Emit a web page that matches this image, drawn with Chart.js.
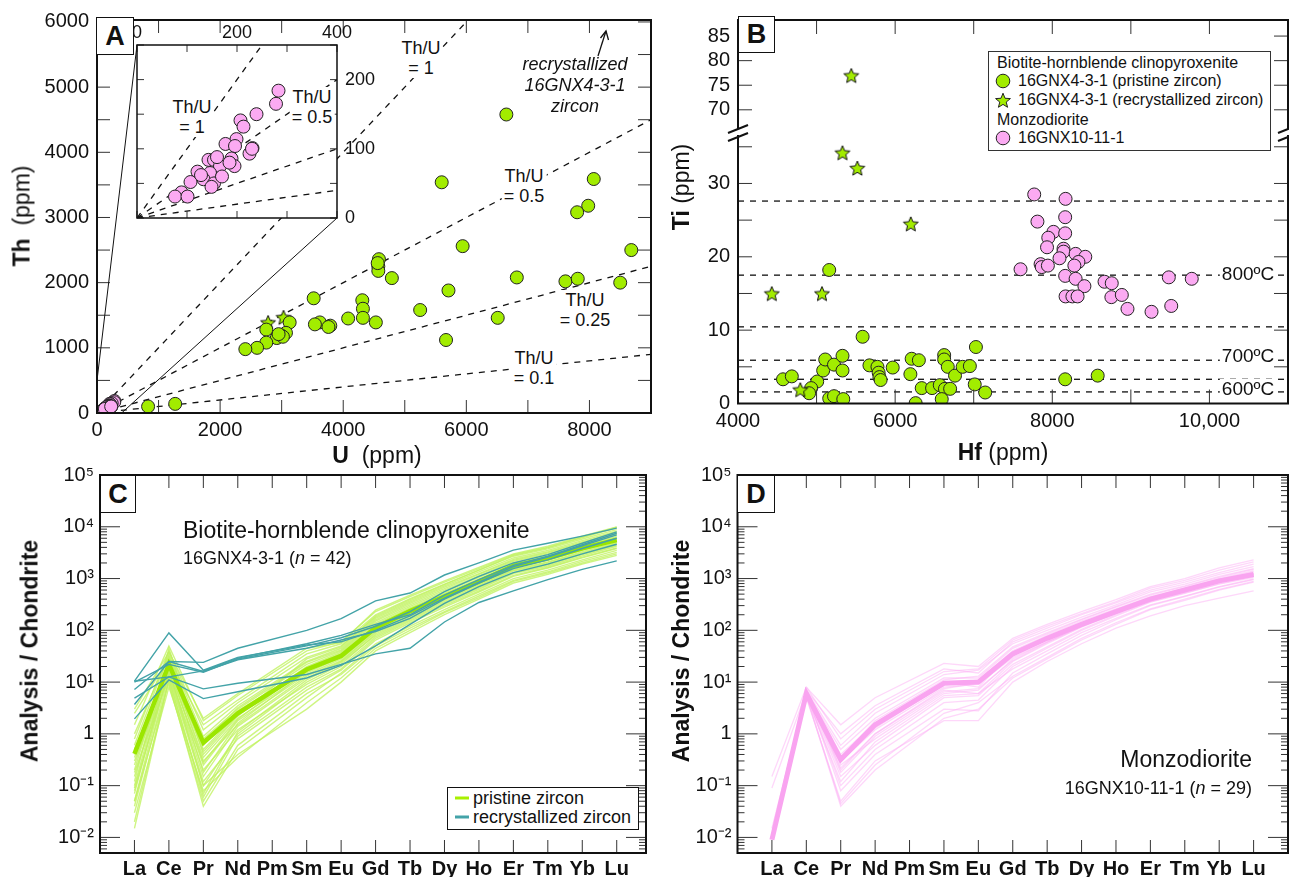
<!DOCTYPE html>
<html>
<head>
<meta charset="utf-8">
<title>Zircon geochemistry</title>
<script src="https://cdn.jsdelivr.net/npm/chart.js@4.4.1/dist/chart.umd.min.js"></script>
<style>
html,body{margin:0;padding:0;background:#fff;}
#stage{position:relative;width:1289px;height:879px;overflow:hidden;background:#fff;font-family:"Liberation Sans",Arial,Helvetica,sans-serif;color:#111;}
#stage canvas{position:absolute;left:0;top:0;}
.tx{position:absolute;white-space:nowrap;line-height:1;z-index:20;}
.lbox{position:absolute;border:1.5px solid #111;background:#fff;z-index:21;font-weight:bold;font-size:27px;display:flex;align-items:center;justify-content:center;box-sizing:border-box;}
</style>
</head>
<body>
<div id="stage"></div>
<script>
// ================= DATA =================
// Panel A: Th vs U (ppm)
const A_PRISTINE_U  = [6650,5600,8070,7980,7800,5940,8680,4580,4570,4570,4790,6820,7610,7810,8500,5710,3520,4310,4320,4320,5250,6510,4080,4530,3620,3540,3790,3760,5670,3130,3070,2990,2920,2750,2750,2600,2410,830,1270,3020,2950,4560];
const A_PRISTINE_TH = [4580,3540,3590,3180,3080,2560,2500,2360,2250,2180,2070,2080,2020,2060,2000,1880,1760,1730,1600,1460,1580,1460,1450,1390,1390,1360,1340,1320,1120,1390,1230,1190,1150,1280,1080,1000,980,100,140,1170,1210,2300];
const A_RECRYST_U   = [2780,3030];
const A_RECRYST_TH  = [1390,1470];
const MONZO_U  = [283,278,239,207,213,199,177,196,231,225,189,143,154,195,166,121,146,133,107,154,149,89,76,101,160,185,170,128,230];
const MONZO_TH = [184,165,150,141,132,114,107,104,101,93,86,84,84,75,75,67,65,56,52,50,45,37,31,31,88,80,60,62,100];
const THU_RATIOS = [1, 0.5, 0.25, 0.1];
const A_X_LABELS = [0,2000,4000,6000,8000];
const A_Y_LABELS = [0,1000,2000,3000,4000,5000,6000];
const INSET_X_LABELS = [0,200,400];
const INSET_Y_LABELS = [0,100,200];

// Panel B: Ti vs Hf (ppm)
const B_PRISTINE_HF = [5161,5586,7028,4573,4685,5008,4931,4905,5084,5110,5222,5330,5330,5161,5222,5340,5673,5775,5790,5800,5815,5969,6210,6302,6194,6261,6338,6470,6568,6624,6624,6670,6634,6700,6593,6762,6859,6951,7013,7146,8164,8578];
const B_PRISTINE_TI = [18.2,9.1,7.7,3.3,3.7,3.0,2.1,1.4,4.5,6.0,5.3,6.5,4.5,0.7,1.0,0.6,5.2,5.0,4.2,3.6,3.2,4.9,6.1,5.9,4.0,0.05,2.1,2.1,2.5,6.6,6.0,5.0,2.0,2.0,0.6,3.8,5.0,5.1,2.6,1.5,3.3,3.8];
const B_RECRYST_HF  = [5442,5330,5519,6199,4430,5069,4793];
const B_RECRYST_TI  = [77.0,34.2,32.1,24.5,15.0,15.0,1.9];
const B_MONZO_HF = [7770,8169,7811,8164,8015,8164,7949,7933,8143,8143,8092,8297,8420,7851,7866,7944,8333,8281,7596,8164,8297,8409,8665,8757,8169,8256,8322,8752,8885,8957,9263,9483,9775,9514];
const B_MONZO_TI = [28.5,27.9,24.8,25.4,23.4,23.2,22.6,21.3,21.1,20.7,19.8,20.4,20.0,19.0,18.6,18.8,19.3,18.8,18.3,17.4,17.0,16.0,16.6,16.4,14.6,14.6,14.6,14.5,14.8,12.9,12.5,17.2,17.0,13.3];
const ISOTHERM_TI = [1.58,3.3,5.9,10.45,17.5,27.6];
const B_X_LABELS = [4000,6000,8000,10000];
const B_Y_LOW_LABELS = [0,10,20,30];
const B_Y_UP_LABELS = [70,75,80,85];

// Panels C & D: chondrite-normalised REE
const REE = ['La','Ce','Pr','Nd','Pm','Sm','Eu','Gd','Tb','Dy','Ho','Er','Tm','Yb','Lu'];
const LOG_LABELS = [0.01,0.1,1,10,100,1000,10000,100000];
const C_PRISTINE = [
 [0.02,12,0.06,0.9,null,8,18,70,150,300,580,1150,1650,2600,3900],
 [0.05,18,0.1,1.0,null,10,22,85,180,360,690,1400,1950,3000,4600],
 [0.1,25,0.3,1.5,null,13,26,95,200,400,760,1500,2100,3300,5000],
 [0.2,30,0.5,2.5,null,20,38,140,290,560,1050,2000,2800,4300,6500],
 [0.8,40,1.2,4.0,null,30,50,180,370,720,1350,2500,3500,5400,8200],
 [1.5,50,1.8,5.5,null,40,60,230,450,850,1550,2900,4000,6300,9500],
 [0.3,15,0.2,1.2,null,9,20,75,160,320,620,1250,1750,2750,4200],
 [0.05,10,0.04,0.5,null,5,15,55,120,250,500,1000,1450,2300,3500],
 [0.5,20,0.8,3.0,null,22,40,150,310,600,1120,2150,3000,4600,7000],
 [0.15,22,0.35,2.0,null,15,30,110,230,450,860,1700,2400,3700,5600],
 [0.03,8,0.08,0.35,null,4,12,45,100,220,430,880,1280,2000,3000],
 [0.6,35,0.9,3.5,null,25,45,170,350,680,1250,2350,3300,5100,7700],
 [2.5,28,1.5,4.5,null,35,55,200,410,780,1450,2700,3750,5800,8800],
 [0.08,16,0.15,1.4,null,12,25,90,190,380,730,1450,2050,3150,4800],
 [0.25,26,0.6,2.8,null,18,34,120,250,490,930,1800,2550,3900,5900],
 [0.04,14,0.12,0.8,null,7,17,65,140,280,550,1100,1600,2500,3800],
 [0.12,45,0.4,2.2,null,28,48,190,390,760,1450,2800,3900,6200,9800],
 [null,9,0.05,0.6,null,6,14,50,110,230,460,920,1350,2150,3200],
 [0.35,19,0.25,1.8,null,14,28,100,210,420,800,1600,2250,3500,5300],
 [0.015,11,0.07,1.1,null,11,24,80,170,340,650,1300,1850,2900,4400],
 [1.0,32,0.7,3.2,null,24,42,160,330,640,1200,2250,3150,4900,7300],
 [0.07,24,0.18,1.6,null,16,31,115,240,470,900,1750,2450,3800,5700],
 [3,38,2,6,null,45,58,245,480,900,1650,3000,4200,6600,9900],
 [0.18,13,0.1,0.4,null,3,10,40,90,200,400,820,1200,1900,2800],
 [0.4,21,0.45,2.3,null,17,33,125,260,500,950,1850,2600,4000,6100],
 [0.09,17,0.28,1.9,null,19,36,130,270,520,980,1900,2650,4100,6200]
];
const C_PRISTINE_MEAN = [0.41,22,0.68,2.5,null,17.5,32,112,235,450,870,1750,2450,3850,5560];
const C_RECRYST = [
 [10.4,89,17,30,null,52,60,100,190,420,850,1700,2600,4300,7000],
 [7.2,25,24,45,null,100,168,370,525,1170,2000,3550,4800,6600,9400],
 [10,22,15.5,28,null,50,72,120,230,560,1100,2000,2900,4800,8000],
 [3.7,25,16,27,null,45,65,95,170,400,820,1550,2300,3800,6000],
 [4.9,12.6,16.5,29,null,55,80,130,200,480,950,1800,2700,4500,7500],
 [10.4,12.6,7.4,9.5,null,14,22,35,45,145,345,580,950,1500,2200],
 [1.95,11,4.8,6.5,null,12,21,50,130,330,700,1300,1900,3000,4600]
];
const D_MONZO = [
 [null,6,0.3,1.2,null,8,9,30,60,120,220,380,560,850,1150],
 [null,7,1.0,3.5,null,18,15,60,110,200,340,600,850,1300,1900],
 [0.15,8,1.5,5,null,23,20,70,130,230,390,700,1000,1600,2300],
 [0.09,6.5,0.5,2,null,12,12,45,85,160,280,480,700,1050,1500],
 [null,5.5,0.04,0.2,null,2,3,12,28,65,130,250,380,600,850],
 [null,6,0.1,0.5,null,4,4.5,20,45,100,190,350,520,800,1100],
 [null,7.5,0.2,1,null,7,6,25,55,115,210,380,560,850,1200],
 [null,5,0.05,0.3,null,1.8,1.8,10,25,55,110,190,300,420,580],
 [0.015,6,0.25,0.8,null,6,7,28,60,120,220,400,580,880,1250],
 [null,6.8,0.4,1.6,null,10,8,38,75,140,250,430,620,950,1350],
 [null,5.8,0.15,0.6,null,5,5.5,22,48,105,200,360,530,780,1050],
 [null,7,0.6,2.5,null,14,17,55,100,180,310,550,780,1200,1700],
 [null,6.2,0.08,0.4,null,3,2.8,15,35,80,160,300,450,680,950],
 [null,6.5,0.3,1.3,null,9,11,40,80,150,260,450,650,1000,1400],
 [null,5.2,0.12,0.7,null,5.5,6,18,40,90,170,310,460,700,980],
 [null,8,0.8,3,null,16,18,65,120,210,360,650,920,1450,2100],
 [null,6,0.22,1.0,null,7.5,9.5,33,68,130,235,410,600,900,1250],
 [null,5.5,0.045,0.25,null,2.5,4,13,30,70,140,260,400,620,880],
 [null,6.8,0.35,1.8,null,11,13,48,90,165,290,500,720,1100,1550],
 [null,6.3,0.18,0.9,null,6.5,7.5,26,58,118,215,390,570,860,1200]
];
const D_MONZO_MEAN = [0.009,6,0.32,1.5,null,9.5,10,35,70,130,230,400,600,900,1200];

// ================= STYLE =================
const GREEN = '#a2ec00', PINK = '#fbaaf2', TEAL = '#43a3a8';
Chart.defaults.font.family = "'Liberation Sans', Arial, Helvetica, sans-serif";
Chart.defaults.color = '#111';
const stage = document.getElementById('stage');
const W = 1289, H = 879;
const DECO = {};

function range(a, b, s) { const r = []; for (let v = a; v <= b + 1e-9; v += s) r.push(v); return r; }
const SUP = {'-':'\u207B','0':'\u2070','1':'\u00B9','2':'\u00B2','3':'\u00B3','4':'\u2074','5':'\u2075'};
function logFmt(v) { const e = Math.round(Math.log10(v)); if (e === 0) return '1'; return '10' + String(e).split('').map(ch => SUP[ch]).join(''); }

const decoPlugin = {
  id: 'deco',
  beforeDatasetsDraw(chart) {
    const o = DECO[chart.canvas.id]; if (!o || !o.bg) return;
    const a = chart.chartArea, c = chart.ctx;
    c.save(); c.fillStyle = o.bg; c.fillRect(a.left, a.top, a.right - a.left, a.bottom - a.top); c.restore();
  },
  afterDraw(chart) {
    const o = DECO[chart.canvas.id]; if (!o) return;
    const a = chart.chartArea, c = chart.ctx;
    c.save();
    c.strokeStyle = '#333'; c.lineWidth = 1;
    (o.ticks || []).forEach(t => {
      const s = chart.scales[t.axis];
      c.beginPath();
      t.values.forEach(v => {
        const p = s.getPixelForValue(v), L = t.len;
        t.sides.forEach(sd => {
          if (sd === 'b') { c.moveTo(p, a.bottom); c.lineTo(p, a.bottom - L); }
          if (sd === 't') { c.moveTo(p, a.top); c.lineTo(p, a.top + L); }
          if (sd === 'l') { c.moveTo(a.left, p); c.lineTo(a.left + L, p); }
          if (sd === 'r') { c.moveTo(a.right, p); c.lineTo(a.right - L, p); }
        });
      });
      c.stroke();
    });
    c.strokeStyle = '#111'; c.lineWidth = o.fw || 2; c.lineCap = 'square';
    const f = o.frame || 'tblr';
    c.beginPath();
    if (f.includes('t')) { c.moveTo(a.left, a.top); c.lineTo(a.right, a.top); }
    if (f.includes('b')) { c.moveTo(a.left, a.bottom); c.lineTo(a.right, a.bottom); }
    if (f.includes('l')) { c.moveTo(a.left, a.top); c.lineTo(a.left, a.bottom); }
    if (f.includes('r')) { c.moveTo(a.right, a.top); c.lineTo(a.right, a.bottom); }
    c.stroke();
    if (o.extra) o.extra(chart, c);
    c.restore();
  }
};
Chart.register(decoPlugin);

function axis(o) {
  return {
    type: o.type || 'linear', position: o.pos, min: o.min, max: o.max, bounds: 'data',
    display: o.display !== false,
    grid: { display: false, drawTicks: false }, border: { display: false },
    ticks: { display: !!o.labels, font: { size: o.size || 20, weight: o.bold ? 'bold' : 'normal' }, color: '#111',
             padding: (o.pad !== undefined ? o.pad : 6), autoSkip: false, maxRotation: 0, minRotation: 0,
             callback: o.fmt || (v => String(v)) },
    afterBuildTicks: s => { if (o.labels) s.ticks = o.labels.map(v => ({ value: v })); },
    afterFit: s => { if (o.w !== undefined) s.width = o.w; if (o.h !== undefined) s.height = o.h; }
  };
}

function mk(id, area, sizes, scales, datasets, deco, z) {
  const cv = document.createElement('canvas');
  cv.width = W; cv.height = H; cv.id = id; cv.style.zIndex = z || 1;
  stage.appendChild(cv);
  DECO[id] = deco;
  const yL = sizes.yL || 0, yR = sizes.yR || 0, xB = sizes.xB || 0, xT = sizes.xT || 0;
  return new Chart(cv, {
    type: 'scatter',
    data: { datasets },
    options: {
      responsive: false, animation: false, events: [], devicePixelRatio: 1,
      layout: { autoPadding: false, padding: { left: area.l - yL, right: W - area.r - yR, top: area.t - xT, bottom: H - area.b - xB } },
      plugins: { legend: { display: false }, tooltip: { enabled: false } },
      scales
    }
  });
}

function pts(xs, ys) { return xs.map((x, i) => ({ x, y: ys[i] })); }
function reeLine(vals) { return vals.map((v, i) => ({ x: i, y: v })); }

function makeStar(size, fill) {
  const c = document.createElement('canvas'); c.width = c.height = size;
  const g = c.getContext('2d'); const cx = size / 2, cy = size / 2 + 0.8, R = size / 2 - 1.2, r = R * 0.45;
  g.beginPath();
  for (let i = 0; i < 10; i++) { const ang = -Math.PI / 2 + i * Math.PI / 5; const rad = i % 2 ? r : R; g.lineTo(cx + rad * Math.cos(ang), cy + rad * Math.sin(ang)); }
  g.closePath(); g.fillStyle = fill; g.fill(); g.lineWidth = 1; g.strokeStyle = '#111'; g.stroke();
  return c;
}
const STAR = makeStar(18, GREEN);

const circ = (data, fill, order) => ({ data, pointRadius: 6.5, pointBackgroundColor: fill, pointBorderColor: '#222', pointBorderWidth: 1, showLine: false, order });
const dashed = (data, order) => ({ data, showLine: true, pointRadius: 0, borderColor: '#111', borderWidth: 1.3, borderDash: [6, 6], order });

// ================= PANEL A =================
const A_AREA = { l: 97, t: 17, r: 651, b: 413 };
const A_XMAX = 9000, A_YMAX = 6030;
mk('cA', A_AREA, { yL: 70, xB: 40 }, {
  x: axis({ pos: 'bottom', min: 0, max: A_XMAX, labels: A_X_LABELS, pad: 5, h: 40 }),
  y: axis({ pos: 'left', min: 0, max: A_YMAX, labels: A_Y_LABELS, pad: 8, w: 70 })
}, [
  circ(pts(MONZO_U, MONZO_TH), PINK, 1),
  circ(pts(A_PRISTINE_U, A_PRISTINE_TH), GREEN, 2),
  { data: pts(A_RECRYST_U, A_RECRYST_TH), pointStyle: STAR, pointRadius: 8, showLine: false, order: 3 },
  ...THU_RATIOS.map(r => dashed([{ x: 0, y: 0 }, { x: A_XMAX, y: A_XMAX * r }], 10))
], {
  frame: 'tblr', fw: 2,
  ticks: [
    { axis: 'x', values: range(0, 9000, 1000), len: 13, sides: ['b', 't'] },
    { axis: 'y', values: range(0, 6000, 500), len: 13, sides: ['l', 'r'] }
  ],
  extra: (chart, c) => {
    const sx = chart.scales.x, sy = chart.scales.y;
    c.strokeStyle = '#111'; c.lineWidth = 1; c.lineCap = 'butt';
    c.beginPath();
    c.moveTo(137, 45); c.lineTo(sx.getPixelForValue(0), sy.getPixelForValue(500));
    c.moveTo(337, 218); c.lineTo(sx.getPixelForValue(400), sy.getPixelForValue(0));
    c.stroke();
    // arrow
    c.lineWidth = 1.3;
    c.beginPath(); c.moveTo(598, 56); c.lineTo(606, 31); c.stroke();
    c.beginPath(); c.moveTo(600.5, 38); c.lineTo(606, 31); c.lineTo(608.5, 40); c.stroke();
  }
}, 1);

// Inset
const IN_AREA = { l: 137, t: 45, r: 337, b: 218 };
mk('cInset', IN_AREA, { yR: 45, xT: 25 }, {
  x: axis({ pos: 'top', min: 0, max: 400, labels: INSET_X_LABELS, size: 18, pad: 1, h: 25 }),
  y: axis({ pos: 'right', min: 0, max: 250, labels: INSET_Y_LABELS, size: 18, pad: 8, w: 45 })
}, [
  circ(pts(MONZO_U, MONZO_TH), PINK, 1),
  ...THU_RATIOS.map(r => dashed([{ x: 0, y: 0 }, { x: 400, y: 400 * r }], 10))
], {
  bg: '#fff', frame: 'tblr', fw: 1.5,
  ticks: [
    { axis: 'x', values: range(0, 400, 100), len: 7, sides: ['t', 'b'] },
    { axis: 'y', values: range(0, 250, 50), len: 7, sides: ['l', 'r'] }
  ]
}, 2);

// ================= PANEL B =================
const B_XMIN = 4000, B_XMAX = 11000;
const B_UP = { l: 738, t: 16, r: 1288, b: 128 };
const B_LO = { l: 738, t: 136, r: 1288, b: 403.5 };
const bSets = () => [
  { data: pts(B_RECRYST_HF, B_RECRYST_TI), pointStyle: STAR, pointRadius: 8, showLine: false, order: 1 },
  circ(pts(B_PRISTINE_HF, B_PRISTINE_TI), GREEN, 2),
  circ(pts(B_MONZO_HF, B_MONZO_TI), PINK, 3)
];
mk('cBup', B_UP, { yL: 60 }, {
  x: axis({ pos: 'bottom', min: B_XMIN, max: B_XMAX, display: false }),
  y: axis({ pos: 'left', min: 66.3, max: 88.27, labels: B_Y_UP_LABELS, pad: 8, w: 60 })
}, bSets(), {
  frame: 'tlr', fw: 2,
  ticks: [
    { axis: 'x', values: range(4000, 11000, 1000), len: 14, sides: ['t'] },
    { axis: 'y', values: B_Y_UP_LABELS, len: 14, sides: ['l', 'r'] }
  ]
}, 1);
mk('cBlo', B_LO, { yL: 60, xB: 45 }, {
  x: axis({ pos: 'bottom', min: B_XMIN, max: B_XMAX, labels: B_X_LABELS, pad: 6, h: 45, fmt: v => v >= 10000 ? '10,000' : String(v) }),
  y: axis({ pos: 'left', min: 0, max: 36.47, labels: B_Y_LOW_LABELS, pad: 8, w: 60 })
}, [
  ...bSets(),
  ...ISOTHERM_TI.map(t => dashed([{ x: B_XMIN, y: t }, { x: B_XMAX, y: t }], 10))
], {
  frame: 'lrb', fw: 2,
  ticks: [
    { axis: 'x', values: range(4000, 11000, 1000), len: 14, sides: ['b'] },
    { axis: 'y', values: range(0, 35, 5), len: 14, sides: ['l', 'r'] }
  ]
}, 1);

// ================= PANELS C & D =================
const LOG_MAJ = LOG_LABELS.slice();
const LOG_MIN = [];
for (let e = -3; e <= 4; e++) for (let m = 2; m <= 9; m++) { const v = m * Math.pow(10, e); if (v > 0.0051 && v < 100000) LOG_MIN.push(v); }
function reeDeco() {
  return {
    frame: 'tblr', fw: 2,
    ticks: [
      { axis: 'x', values: range(0, 14, 1), len: 13, sides: ['t', 'b'] },
      { axis: 'y', values: LOG_MAJ, len: 20, sides: ['l', 'r'] },
      { axis: 'y', values: LOG_MIN, len: 7, sides: ['l', 'r'] }
    ]
  };
}
const thin = (vals, color, w, order) => ({ data: reeLine(vals), showLine: true, spanGaps: true, pointRadius: 0, borderColor: color, borderWidth: w, order });

const C_AREA = { l: 100, t: 475, r: 646, b: 853 };
mk('cC', C_AREA, { yL: 90, xB: 24 }, {
  x: axis({ pos: 'bottom', min: -1, max: 14.85, labels: REE.map((_, i) => i), bold: true, pad: 4, h: 24, fmt: v => REE[v] }),
  y: axis({ type: 'logarithmic', pos: 'left', min: 0.005, max: 100000, labels: LOG_LABELS, pad: 6, w: 90, fmt: logFmt })
}, [
  ...C_RECRYST.map(v => thin(v, TEAL, 1.4, 1)),
  thin(C_PRISTINE_MEAN, '#9be600', 4.5, 2),
  ...C_PRISTINE.map(v => thin(v, 'rgba(192,242,95,0.78)', 1.4, 3))
], reeDeco(), 1);

const D_AREA = { l: 737.5, t: 475, r: 1288, b: 853 };
mk('cD', D_AREA, { yL: 90, xB: 24 }, {
  x: axis({ pos: 'bottom', min: -1, max: 15, labels: REE.map((_, i) => i), bold: true, pad: 4, h: 24, fmt: v => REE[v] }),
  y: axis({ type: 'logarithmic', pos: 'left', min: 0.005, max: 100000, labels: LOG_LABELS, pad: 6, w: 90, fmt: logFmt })
}, [
  thin(D_MONZO_MEAN, '#f9a4f0', 5, 1),
  ...D_MONZO.map(v => thin(v, 'rgba(253,175,245,0.5)', 1.3, 2))
], reeDeco(), 1);

// ================= TEXT & DECORATIONS =================
function T(html, x, y, size, align, extra) {
  const d = document.createElement('div'); d.className = 'tx'; d.innerHTML = html;
  d.style.fontSize = size + 'px'; d.style.left = x + 'px'; d.style.top = (y - size * 0.49) + 'px';
  let tr = '';
  if (align === 'center') tr = 'translateX(-50%)';
  if (align === 'right') tr = 'translateX(-100%)';
  d.style.transform = tr;
  if (extra) d.style.cssText += extra;
  stage.appendChild(d); return d;
}
function BLK(html, x, top, size, lh, extra) {
  const d = document.createElement('div'); d.className = 'tx'; d.innerHTML = html;
  d.style.fontSize = size + 'px'; d.style.lineHeight = lh + 'px'; d.style.left = x + 'px'; d.style.top = top + 'px';
  d.style.textAlign = 'center'; d.style.transform = 'translateX(-50%)';
  if (extra) d.style.cssText += extra;
  stage.appendChild(d); return d;
}
function R(html, cx, cy, size) {
  const d = document.createElement('div'); d.className = 'tx'; d.innerHTML = html;
  d.style.fontSize = size + 'px'; d.style.left = cx + 'px'; d.style.top = cy + 'px';
  d.style.transform = 'translate(-50%,-50%) rotate(-90deg)';
  stage.appendChild(d); return d;
}
function LB(letter, l, t, w, h) {
  const d = document.createElement('div'); d.className = 'lbox'; d.textContent = letter;
  d.style.left = l + 'px'; d.style.top = t + 'px'; d.style.width = w + 'px'; d.style.height = h + 'px';
  stage.appendChild(d);
}

// axis titles
R('<b>Th</b>&nbsp; (ppm)', 22, 216, 23);
T('<b>U</b>&nbsp; (ppm)', 377, 455, 23, 'center');
R('<b>Ti</b> (ppm)', 681, 187, 23);
T('<b>Hf</b> (ppm)', 1003, 452, 23, 'center');
R('<b>Analysis / Chondrite</b>', 30, 651, 23);
R('<b>Analysis / Chondrite</b>', 681, 651, 23);

// panel letters
LB('A', 96, 17, 38, 38);
LB('B', 738, 16, 37, 37);
LB('C', 100, 475, 36, 38);
LB('D', 737, 475, 38, 38);

// panel A annotations
const wb = 'background:#fff;padding:0 2px;';
BLK('Th/U<br>= 1', 421, 38, 18, 20, wb);
BLK('Th/U<br>= 0.5', 524, 166, 18, 20, wb);
BLK('Th/U<br>= 0.25', 585, 290, 18, 20, wb);
BLK('Th/U<br>= 0.1', 534, 348, 18, 20, wb);
BLK('Th/U<br>= 1', 192, 97, 18, 20, wb);
BLK('Th/U<br>= 0.5', 312, 87, 18, 20, wb);
BLK('recrystallized<br>16GNX4-3-1<br>zircon', 575, 54, 18, 21, 'font-style:italic;');

// panel B isotherm labels
T('800ºC', 1248, 273, 19, 'center', wb);
T('700ºC', 1248, 355, 19, 'center', wb);
T('600ºC', 1248, 388, 19, 'center', wb);

// panel B legend
(function () {
  const box = document.createElement('div');
  box.style.cssText = 'position:absolute;left:988px;top:51px;width:281px;height:98px;border:1px solid #333;background:#fff;z-index:19;';
  stage.appendChild(box);
  T('Biotite-hornblende clinopyroxenite', 997, 63, 16);
  T('16GNX4-3-1 (pristine zircon)', 1018, 81, 16);
  T('16GNX4-3-1 (recrystallized zircon)', 1018, 100, 16);
  T('Monzodiorite', 997, 120, 16);
  T('16GNX10-11-1', 1018, 138, 16);
  const svgL = document.createElementNS('http://www.w3.org/2000/svg', 'svg');
  svgL.setAttribute('width', W); svgL.setAttribute('height', H);
  svgL.style.cssText = 'position:absolute;left:0;top:0;z-index:22;pointer-events:none;';
  const starPts = [];
  for (let i = 0; i < 10; i++) { const a = -Math.PI / 2 + i * Math.PI / 5; const rr = i % 2 ? 3.4 : 7.8; starPts.push((1003 + rr * Math.cos(a)).toFixed(2) + ',' + (101 + rr * Math.sin(a)).toFixed(2)); }
  svgL.innerHTML =
    '<circle cx="1003" cy="81" r="6.8" fill="' + GREEN + '" stroke="#222" stroke-width="1"/>' +
    '<polygon points="' + starPts.join(' ') + '" fill="' + GREEN + '" stroke="#222" stroke-width="1"/>' +
    '<circle cx="1003" cy="138" r="6.8" fill="' + PINK + '" stroke="#222" stroke-width="1"/>' +
    '<g stroke="#111" stroke-width="2">' +
    '<line x1="728" y1="133" x2="748" y2="125"/><line x1="728" y1="141" x2="748" y2="133"/>' +
    '<line x1="1278" y1="133" x2="1298" y2="125"/><line x1="1278" y1="141" x2="1298" y2="133"/></g>' +
    '<line x1="455" y1="798" x2="469" y2="798" stroke="#a8f000" stroke-width="3"/>' +
    '<line x1="455" y1="817" x2="469" y2="817" stroke="' + TEAL + '" stroke-width="3"/>';
  stage.appendChild(svgL);
})();

// panel C texts
T('Biotite-hornblende clinopyroxenite', 183, 530, 23);
T('16GNX4-3-1 (<i>n</i> = 42)', 183, 558, 18);
(function () {
  const box = document.createElement('div');
  box.style.cssText = 'position:absolute;left:447px;top:787px;width:192px;height:43px;border:1.5px solid #111;background:#fff;z-index:19;box-sizing:border-box;';
  stage.appendChild(box);
  T('pristine zircon', 473, 798, 18);
  T('recrystallized zircon', 473, 817, 18);
})();

// panel D texts
T('Monzodiorite', 1252, 759, 23, 'right');
T('16GNX10-11-1 (<i>n</i> = 29)', 1252, 788, 18, 'right');
</script>
</body>
</html>
